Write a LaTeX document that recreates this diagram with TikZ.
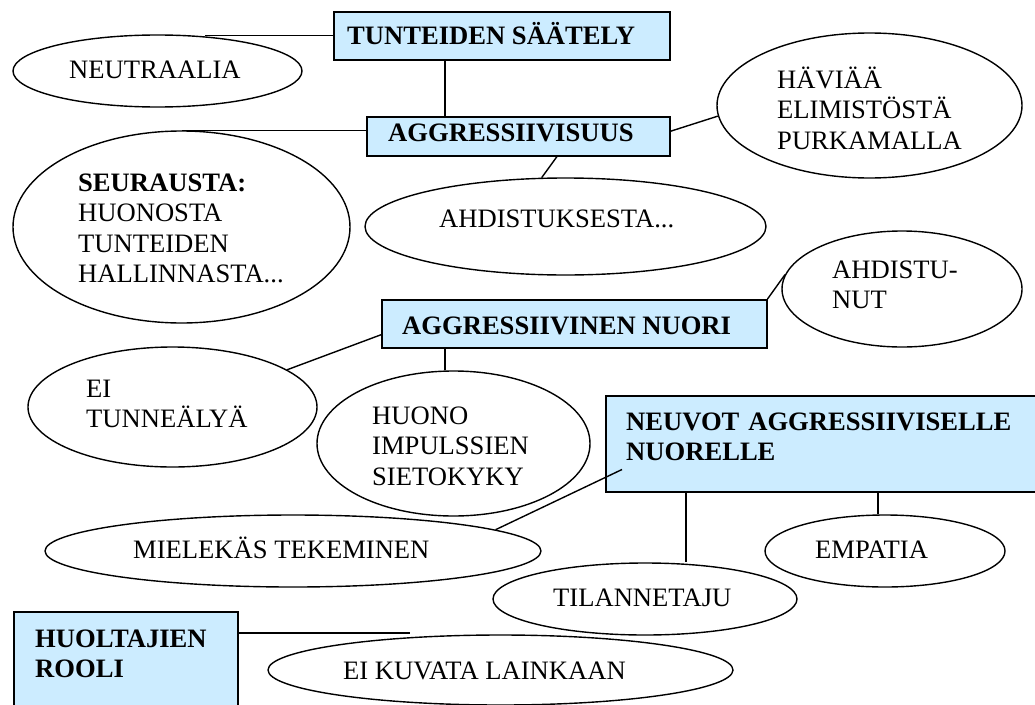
\documentclass[tikz,border=0pt]{standalone}
\usepackage{fontspec}
\setmainfont{Liberation Serif}
\usetikzlibrary{shapes.geometric}
\definecolor{boxblue}{RGB}{204,236,255}
\tikzset{
  lbl/.style={inner sep=0pt, anchor=base west, font=\fontsize{26.6}{30.5}\selectfont},
  lblmulti/.style={lbl, text width=#1, align=left},
  bubble/.style={ellipse, draw=black, fill=white, line width=1.4pt, inner sep=0pt},
  topic/.style={rectangle, draw=black, fill=boxblue, line width=1.5pt, inner sep=0pt, anchor=north west},
  link/.style={draw=black, line width=1.4pt},
}
\begin{document}
\begin{tikzpicture}[x=1pt,y=-1pt]
\useasboundingbox (0,0) rectangle (1035,704);
\fill[white] (0,0) rectangle (1035,704);
\clip (0,0) rectangle (1035,704);

% topic boxes
\node[topic, minimum width=336pt, minimum height=48pt] (tunt) at (333,11) {};
\node[topic, minimum width=303pt, minimum height=39pt] (aggr) at (366,116) {};
\node[topic, minimum width=385pt, minimum height=48pt] (nuori) at (381,299) {};
\node[topic, minimum width=440pt, minimum height=96pt] (neuvot) at (605,395) {};
\node[topic, minimum width=224pt, minimum height=110pt] (huolt) at (13,611) {};

% bubbles
\node[bubble, minimum width=289pt, minimum height=72pt] (neutr) at (157.5,71) {};
\node[bubble, minimum width=337pt, minimum height=192pt] (seur) at (181.5,227) {};
\node[bubble, minimum width=305pt, minimum height=145pt] (havi) at (869.5,105.5) {};
\node[bubble, minimum width=401pt, minimum height=97pt] (ahdk) at (565.5,226.5) {};
\node[bubble, minimum width=240pt, minimum height=116pt] (ahdn) at (902,289) {};
\node[bubble, minimum width=289pt, minimum height=120pt] (eitu) at (172.5,407) {};
\node[bubble, minimum width=273pt, minimum height=145pt] (huono) at (453.5,443.5) {};
\node[bubble, minimum width=496pt, minimum height=72pt] (miel) at (293,551) {};
\node[bubble, minimum width=304pt, minimum height=72pt] (tila) at (645,599) {};
\node[bubble, minimum width=240pt, minimum height=72pt] (empa) at (885,551) {};
\node[bubble, minimum width=465pt, minimum height=70pt] (eikuv) at (500.5,670) {};

% attachment points on the boxes
\coordinate (tuntfoot) at ([xshift=112pt]tunt.south west);
\coordinate (aggrfoot) at ([xshift=191pt]aggr.south west);
\coordinate (aggrside) at ([yshift=5pt]aggr.east);
\coordinate (nuoriside) at ([yshift=-11pt]nuori.west);
\coordinate (nuorifoot) at ([xshift=64pt]nuori.south west);
\coordinate (neuvotin) at ([xshift=17pt,yshift=23pt]neuvot.south west);
\coordinate (neuvotfootA) at ([xshift=81pt]neuvot.south west);
\coordinate (neuvotfootB) at ([xshift=273pt]neuvot.south west);
\coordinate (huoltside) at ([yshift=-22pt]huolt.north east);

% connectors
\draw[link] (tunt.west) -- (tunt.west -| neutr.36);
\draw[link] (tuntfoot) -- (tuntfoot |- aggr.north);
\draw[link] (aggr.west |- seur.north) -- (seur.north);
\draw[link] (aggrside) -- (havi.184);
\draw[link] (aggrfoot) -- (ahdk.116);
\draw[link] (nuori.north east) -- (ahdn.173);
\draw[link] (nuoriside) -- (eitu.18);
\draw[link] (nuorifoot) -- (nuorifoot |- huono.north);
\draw[link] (neuvotin) -- (miel.6);
\draw[link] (neuvotfootA) -- (neuvotfootA |- tila.north);
\draw[link] (neuvotfootB) -- (neuvotfootB |- empa.north);
\draw[link] (huoltside) -- (huoltside -| eikuv.160);

% texts
\node[lbl] (tunt-t) at (347,44) {\textbf{TUNTEIDEN SÄÄTELY}};
\node[lbl] (neutr-t) at (69,78) {NEUTRAALIA};
\node[lbl] (aggr-t) at (388,141) {\textbf{AGGRESSIIVISUUS}};
\node[lblmulti=240pt] (havi-t) at (777,88) {HÄVIÄÄ\\ELIMISTÖSTÄ\\PURKAMALLA};
\node[lblmulti=260pt] (seur-t) at (78,191) {\textbf{SEURAUSTA:}\\HUONOSTA\\TUNTEIDEN\\HALLINNASTA...};
\node[lbl] (ahdk-t) at (439,227) {AHDISTUKSESTA...};
\node[lblmulti=180pt] (ahdn-t) at (832,278) {AHDISTU-\\NUT};
\node[lbl] (nuori-t) at (402,334) {\textbf{AGGRESSIIVINEN NUORI}};
\node[lblmulti=220pt] (eitu-t) at (86,397) {EI\\TUNNEÄLYÄ};
\node[lblmulti=220pt] (huono-t) at (372,424) {HUONO\\IMPULSSIEN\\SIETOKYKY};
\node[lblmulti=400pt, font=\fontsize{26.6}{30.5}\selectfont\bfseries] (neuvot-t) at (626,430) {NEUVOT AGGRESSIIVISELLE\\NUORELLE};
\node[lbl] (miel-t) at (133,558) {MIELEKÄS TEKEMINEN};
\node[lbl] (tila-t) at (553,606) {TILANNETAJU};
\node[lbl] (empa-t) at (815,558) {EMPATIA};
\node[lbl] (eikuv-t) at (343,679) {EI KUVATA LAINKAAN};
\node[lblmulti=200pt, font=\fontsize{26.6}{30.5}\selectfont\bfseries] (huolt-t) at (35,647) {HUOLTAJIEN\\ROOLI};
\end{tikzpicture}
\end{document}
